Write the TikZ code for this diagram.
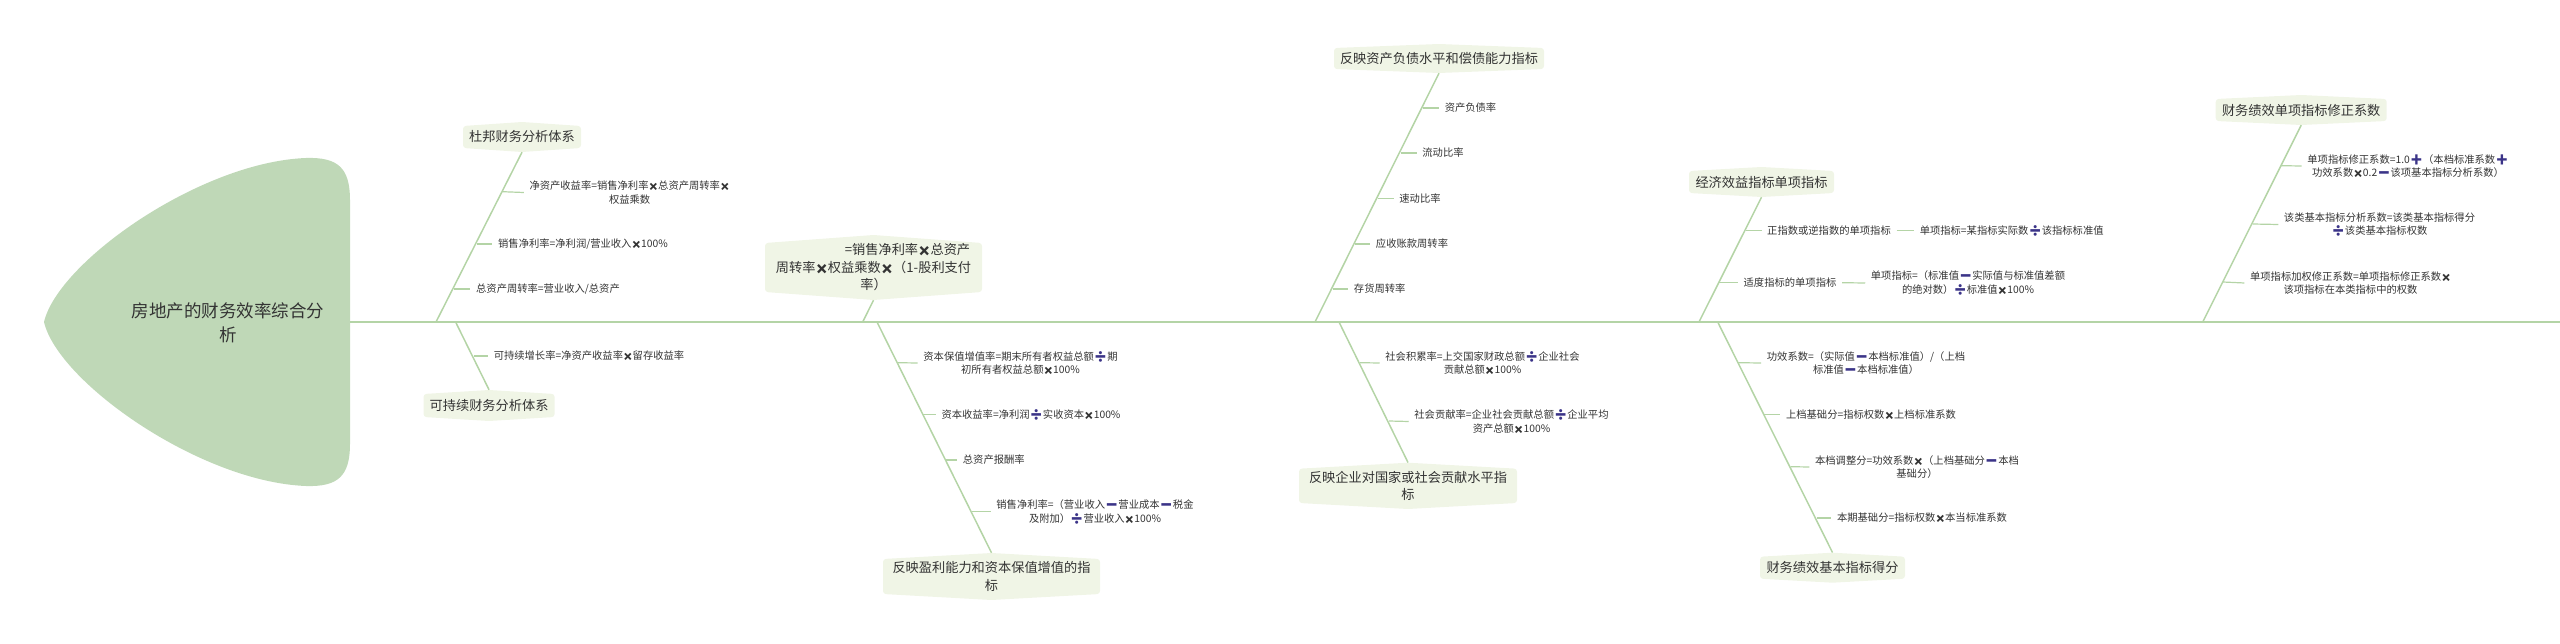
\documentclass[tikz,border=0pt]{standalone}
\usepackage{fontspec}
\setmainfont{Noto Sans CJK SC}
\newfontfamily\opfont{Noto Emoji}
\usetikzlibrary{calc}
\definecolor{rootfill}{HTML}{BFD8B7}
\definecolor{topicfill}{HTML}{F0F5E6}
\definecolor{linecol}{HTML}{B4D4A6}
\definecolor{opcol}{HTML}{3B3488}
\definecolor{txt}{HTML}{333333}
\newcommand\Dv{{\color{opcol}\opfont\fontsize{10.5}{13.7}\selectfont ➗}}
\newcommand\Mn{{\color{opcol}\opfont\fontsize{10.5}{13.7}\selectfont ➖}}
\newcommand\Pl{{\color{opcol}\opfont\fontsize{10.5}{13.7}\selectfont ➕}}
\newcommand\Tm{{\opfont\fontsize{7.6}{13.7}\selectfont ✖}}
\newcommand\TmB{{\opfont\fontsize{9.8}{17.5}\selectfont ✖}}
\tikzset{
  spine/.style={draw=linecol,line width=2pt},
  rib/.style={draw=linecol,line width=1.5pt},
  stub/.style={draw=linecol,line width=1.2pt},
  leaf/.style={text=txt,inner sep=0pt,inner xsep=5.5pt,align=center,font=\fontsize{10.3}{13.7}\selectfont},
  topic/.style={text=txt,inner sep=0pt,align=center,font=\fontsize{13.2}{17.5}\selectfont},
}
% name, x0, ytop, x1, ybot, bulge, text
\newcommand\topicbox[7]{%
  \path[fill=topicfill,rounded corners=3pt]
    (#2,#3+#6) -- ({(#2+#4)/2},#3) -- (#4,#3+#6) -- (#4,#5-#6) -- ({(#2+#4)/2},#5) -- (#2,#5-#6) -- cycle;
  \node[topic,minimum width=#4pt-#2pt,minimum height=#5pt-#3pt] (#1) at ({(#2+#4)/2},{(#3+#5)/2}) {#7};
}
\begin{document}
\begin{tikzpicture}[x=1pt,y=-1pt]
\useasboundingbox (0,0) rectangle (2560,644);
% root
\path[fill=rootfill] (44,322) .. controls (58,262) and (200,162) .. (306,158)
  .. controls (338,157) and (350,168) .. (350,200) -- (350,444)
  .. controls (350,476) and (338,487) .. (306,486)
  .. controls (200,482) and (58,382) .. (44,322) -- cycle;
\node[text=txt,inner sep=0pt,align=center,font=\fontsize{17.5}{23.7}\selectfont] (root) at (228,323) {房地产的财务效率综合分\\析};
\coordinate (rootr) at (350,322);
\coordinate (tail) at (2560,322);
\draw[spine] (rootr) -- (tail);

% ---- topics
\topicbox{t1}{463}{122}{581}{152}{4}{杜邦财务分析体系}
\topicbox{t2}{423.5}{390}{554.6}{421}{4}{可持续财务分析体系}
\topicbox{t3}{765}{235}{982}{300}{8}{\hspace*{68pt}=销售净利率\TmB 总资产\\周转率\TmB 权益乘数\TmB（1-股利支付\\率）}
\topicbox{t4}{883}{553}{1100}{600}{6}{反映盈利能力和资本保值增值的指\\标}
\topicbox{t5}{1334}{44}{1544}{73}{4}{反映资产负债水平和偿债能力指标}
\topicbox{t6}{1299}{462.7}{1517}{509}{6}{反映企业对国家或社会贡献水平指\\标}
\topicbox{t7}{1689}{167}{1834}{197}{4}{经济效益指标单项指标}
\topicbox{t8}{1760}{552.7}{1905}{582.7}{4}{财务绩效基本指标得分}
\topicbox{t9}{2215.7}{95}{2386.7}{125}{4}{财务绩效单项指标修正系数}

% ---- spine joints
\coordinate (j1) at (436,322);
\coordinate (j2) at (455.6,322);
\coordinate (j3) at (862.7,322);
\coordinate (j4) at (877,322);
\coordinate (j5) at (1315,322);
\coordinate (j6) at (1339,322);
\coordinate (j7) at (1699,322);
\coordinate (j8) at (1717.7,322);
\coordinate (j9) at (2202.7,322);
\foreach \a/\b in {t1/j1,t3/j3,t5/j5,t7/j7,t9/j9}
  \draw[rib] (\a.south) -- (\b);
\foreach \a/\b in {t2/j2,t4/j4,t6/j6,t8/j8}
  \draw[rib] (\a.north) -- (\b);

% ---- leaves
\node[leaf] (a1) at (629.6,192.5) {净资产收益率=销售净利率\Tm 总资产周转率\Tm\\权益乘数};
\node[leaf] (a2) at (583,244) {销售净利率=净利润/营业收入\Tm 100\%};
\node[leaf] (a3) at (548,289) {总资产周转率=营业收入/总资产};
\coordinate (ra1) at (502.5,191.7);
\coordinate (ra2) at (477,244);
\coordinate (ra3) at (454,289);
\node[leaf] (b1) at (589,356) {可持续增长率=净资产收益率\Tm 留存收益率};
\coordinate (rb1) at (473.5,356);

\node[leaf] (d1) at (1020.5,363) {资本保值增值率=期末所有者权益总额\Dv 期\\初所有者权益总额\Tm 100\%};
\node[leaf] (d2) at (1031,414.7) {资本收益率=净利润\Dv 实收资本\Tm 100\%};
\node[leaf] (d3) at (993.8,460) {总资产报酬率};
\node[leaf] (d4) at (1095,511.7) {销售净利率=（营业收入\Mn 营业成本\Mn 税金\\及附加）\Dv 营业收入\Tm 100\%};
\coordinate (rd1) at (897,362.7);
\coordinate (rd2) at (922.7,414.7);
\coordinate (rd3) at (946,460);
\coordinate (rd4) at (972,511.7);

\node[leaf] (e1) at (1470.5,108) {资产负债率};
\node[leaf] (e2) at (1443,153) {流动比率};
\node[leaf] (e3) at (1420,198.7) {速动比率};
\node[leaf] (e4) at (1412,244) {应收账款周转率};
\node[leaf] (e5) at (1379.7,289) {存货周转率};
\coordinate (re1) at (1423,108);
\coordinate (re2) at (1400.7,153);
\coordinate (re3) at (1378,198.7);
\coordinate (re4) at (1355,244);
\coordinate (re5) at (1332.7,289);

\node[leaf] (f1) at (1482.5,363) {社会积累率=上交国家财政总额\Dv 企业社会\\贡献总额\Tm 100\%};
\node[leaf] (f2) at (1511.5,421.5) {社会贡献率=企业社会贡献总额\Dv 企业平均\\资产总额\Tm 100\%};
\coordinate (rf1) at (1360,362.7);
\coordinate (rf2) at (1389,421);

\node[leaf] (g1) at (1829,230.7) {正指数或逆指数的单项指标};
\node[leaf] (g1a) at (2011.7,230.7) {单项指标=某指标实际数\Dv 该指标标准值};
\node[leaf] (g2) at (1790,282.7) {适度指标的单项指标};
\node[leaf] (g2a) at (1968,283) {单项指标=（标准值\Mn 实际值与标准值差额\\的绝对数）\Dv 标准值\Tm 100\%};
\coordinate (rg1) at (1745.7,230.7);
\coordinate (rg2) at (1719,282.7);

\node[leaf] (h1) at (1866,363) {功效系数=（实际值\Mn 本档标准值）/（上档\\标准值\Mn 本档标准值）};
\node[leaf] (h2) at (1871,414.7) {上档基础分=指标权数\Tm 上档标准系数};
\node[leaf] (h3) at (1917,467) {本档调整分=功效系数\Tm（上档基础分\Mn 本档\\基础分）};
\node[leaf] (h4) at (1922,518) {本期基础分=指标权数\Tm 本当标准系数};
\coordinate (rh1) at (1738,362.7);
\coordinate (rh2) at (1764,414.7);
\coordinate (rh3) at (1790.7,466.7);
\coordinate (rh4) at (1816.7,518);

\node[leaf] (i1) at (2408,166) {单项指标修正系数=1.0\Pl（本档标准系数\Pl\\功效系数\Tm 0.2\Mn 该项基本指标分析系数）};
\node[leaf] (i2) at (2379.5,224.5) {该类基本指标分析系数=该类基本指标得分\\\Dv 该类基本指标权数};
\node[leaf] (i3) at (2350.5,283) {单项指标加权修正系数=单项指标修正系数\Tm\\该项指标在本类指标中的权数};
\coordinate (ri1) at (2281,165.7);
\coordinate (ri2) at (2252.7,224);
\coordinate (ri3) at (2223,282);

\foreach \r/\n in {ra1/a1,ra2/a2,ra3/a3,rb1/b1,rd1/d1,rd2/d2,rd3/d3,rd4/d4,re1/e1,re2/e2,re3/e3,re4/e4,re5/e5,rf1/f1,rf2/f2,rg1/g1,rg2/g2,rh1/h1,rh2/h2,rh3/h3,rh4/h4,ri1/i1,ri2/i2,ri3/i3}
  \draw[stub] (\r) -- (\n.west);
\draw[stub] (g1.east) -- (g1a.west);
\draw[stub] (g2.east) -- (g2a.west);
\end{tikzpicture}
\end{document}
